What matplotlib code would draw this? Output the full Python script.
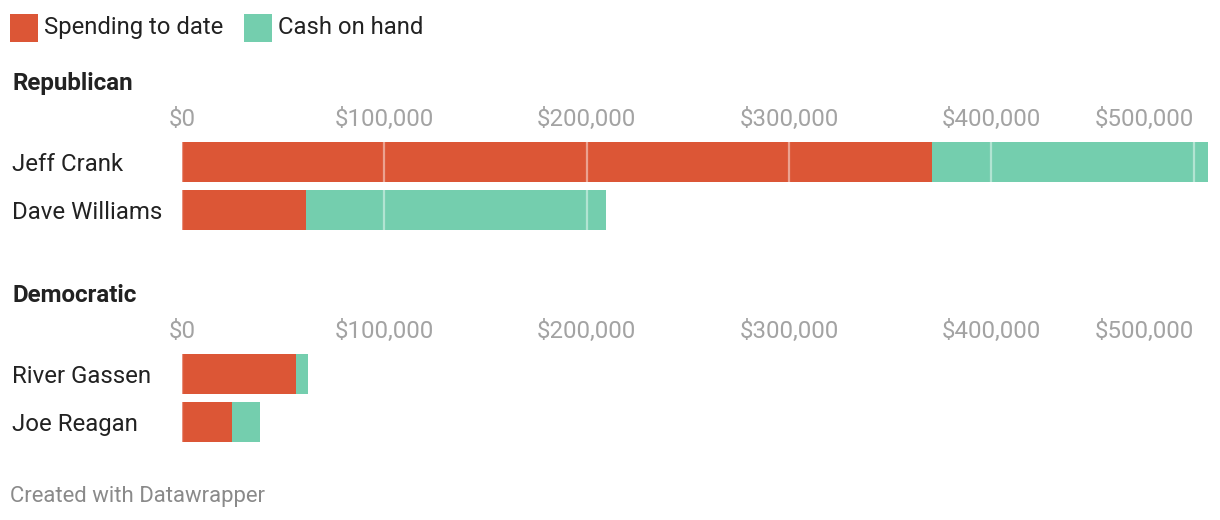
import matplotlib
matplotlib.use("Agg")
import matplotlib.pyplot as plt
from matplotlib.patches import Rectangle

plt.rcParams['font.family'] = ['Roboto', 'DejaVu Sans']

# ---- data ----
groups = ["Republican", "Democratic"]
rep_names = ["Jeff Crank", "Dave Williams"]
rep_spending = [370600, 61300]
rep_cash = [136400, 148200]
dem_names = ["River Gassen", "Joe Reagan"]
dem_spending = [56300, 24700]
dem_cash = [5900, 13800]
tick_values = [0, 100000, 200000, 300000, 400000, 500000]
tick_labels = ["$0", "$100,000", "$200,000", "$300,000", "$400,000", "$500,000"]
legend_labels = ["Spending to date", "Cash on hand"]

RED = "#dc5636"
TEAL = "#74ceae"
TXT = "#222222"
GREY = "#a3a3a3"

W, H = 1220, 520
DPI = 100
fig = plt.figure(figsize=(W / DPI, H / DPI), dpi=DPI)
fig.patch.set_facecolor("white")

xmax = max(max(s + c for s, c in zip(rep_spending, rep_cash)),
           max(s + c for s, c in zip(dem_spending, dem_cash)))

def px_axes(left, top, right, bottom):
    return fig.add_axes([left / W, 1 - bottom / H, (right - left) / W, (bottom - top) / H])

def fy(y):
    return 1 - y / H

def panel(top, names, spend, cash):
    ax = px_axes(182, top, 1208, top + 96)
    ax.set_xlim(0, xmax)
    ax.set_ylim(len(names) - 0.5, -0.5)
    ys = list(range(len(names)))
    ax.barh(ys, spend, height=40 / 48, color=RED, zorder=2)
    ax.barh(ys, cash, left=spend, height=40 / 48, color=TEAL, zorder=2)
    for v in tick_values:
        ax.axvline(v, color="white", alpha=0.45 if v else 0.35, lw=1.6, zorder=3)
    for s in ax.spines.values():
        s.set_visible(False)
    ax.xaxis.tick_top()
    ax.set_xticks(tick_values)
    ax.set_xticklabels(tick_labels)
    ax.tick_params(axis="x", length=0, pad=5, labelsize=17.3, labelcolor=GREY)
    labs = ax.get_xticklabels()
    labs[-1].set_ha("right")
    ax.set_yticks(ys)
    ax.set_yticklabels(names)
    ax.tick_params(axis="y", length=0, pad=122.4, labelsize=17.3, labelcolor=TXT)
    for t in ax.get_yticklabels():
        t.set_ha("left")
    ax.set_facecolor("none")
    return ax

# legend
for x0, lab, col in [(10, legend_labels[0], RED), (244, legend_labels[1], TEAL)]:
    fig.patches.append(Rectangle((x0 / W, fy(42)), 28 / W, 28 / H, transform=fig.transFigure,
                                 facecolor=col, edgecolor="none"))
    fig.text((x0 + 34) / W, fy(34), lab, fontsize=17.2, color=TXT, va="baseline", ha="left")

fig.text(12 / W, fy(83.5), groups[0], fontsize=17.4, fontweight="bold", color=TXT, va="center")
panel(138, rep_names, rep_spending, rep_cash)

fig.text(12 / W, fy(295.5), groups[1], fontsize=17.4, fontweight="bold", color=TXT, va="center")
panel(350, dem_names, dem_spending, dem_cash)

fig.text(10 / W, fy(496.5), "Created with Datawrapper", fontsize=15.9, color="#8a8a8a", va="center")

fig.savefig("out.png", dpi=DPI, facecolor="white")
